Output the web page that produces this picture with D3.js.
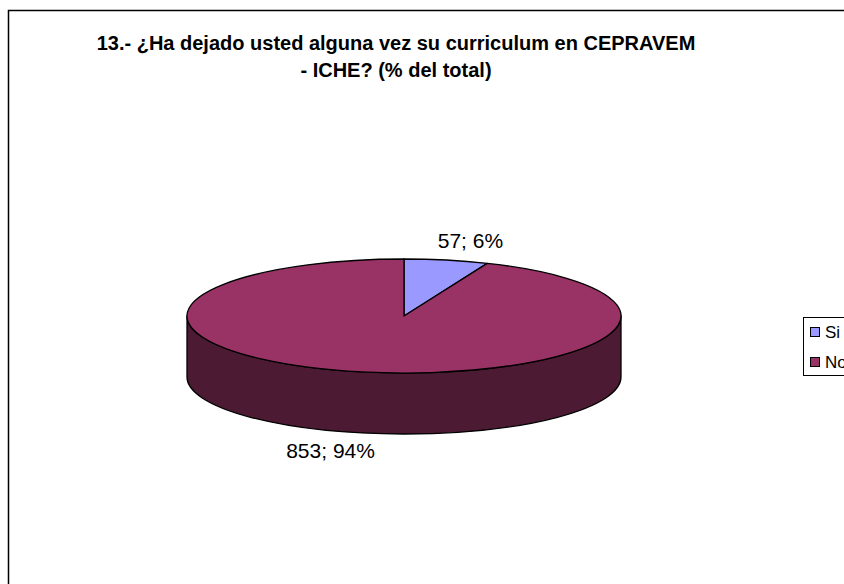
<!DOCTYPE html>
<html>
<head>
<meta charset="utf-8">
<script src="https://cdn.jsdelivr.net/npm/d3@7"></script>
<style>
  body { margin: 0; background: #fff; }
  svg { display: block; font-family: "Liberation Sans", Arial, sans-serif; }
</style>
</head>
<body>
<svg width="844" height="584"></svg>
<script>
(function () {
    // data
    const categories = ["Si", "No"];
    const counts = [57, 853];
    const percents = ["6%", "94%"];
    const colors = ["#9999FF", "#993366"];
    const sideColors = ["#4D4D80", "#4C1A33"];
    const titleLines = ["13.- ¿Ha dejado usted alguna vez su curriculum en CEPRAVEM", "- ICHE? (% del total)"];

    const cx = 404, cy = 316;
    const rx = 217, ry = 57, depth = 61;

    const svg = d3.select("svg");

    // chart frame
    svg.append("rect")
        .attr("x", 8.5)
        .attr("y", 10.5)
        .attr("width", 900)
        .attr("height", 700)
        .attr("fill", "#fff")
        .attr("stroke", "#000")
        .attr("stroke-width", 1.5);

    // title
    svg.append("text")
        .attr("x", 396)
        .attr("y", 50)
        .attr("text-anchor", "middle")
        .style("font-weight", "bold")
        .style("font-size", "20px")
        .selectAll("tspan")
        .data(titleLines)
        .enter()
        .append("tspan")
        .attr("x", 396)
        .attr("dy", (d, i) => i === 0 ? 0 : 27)
        .text(d => d);

    const pie = d3.pie().sort(null).value(d => d);
    const arcs = pie(counts);

    const px = a => cx + rx * Math.sin(a);
    const py = a => cy - ry * Math.cos(a);

    // visible side walls (front half: angles PI/2 .. 3PI/2)
    const g = svg.append("g");
    arcs.forEach((a, i) => {
        const a0 = Math.max(a.startAngle, Math.PI / 2);
        const a1 = Math.min(a.endAngle, 3 * Math.PI / 2);
        if (a1 <= a0) return;
        const p = d3.path();
        p.moveTo(px(a0), py(a0));
        p.lineTo(px(a0), py(a0) + depth);
        const large = (a1 - a0) > Math.PI ? 1 : 0;
        const d = p.toString() +
            `A${rx},${ry} 0 ${large} 1 ${px(a1)},${py(a1) + depth}` +
            `L${px(a1)},${py(a1)}` +
            `A${rx},${ry} 0 ${large} 0 ${px(a0)},${py(a0)}Z`;
        g.append("path")
            .attr("d", d)
            .attr("fill", sideColors[i])
            .attr("stroke", "#000")
            .attr("stroke-width", 1.3)
            .attr("stroke-linejoin", "round");
    });

    // top faces
    const arc = d3.arc().innerRadius(0).outerRadius(rx);
    svg.append("g")
        .attr("transform", `translate(${cx},${cy}) scale(1,${ry / rx})`)
        .selectAll("path")
        .data(arcs)
        .enter()
        .append("path")
        .attr("d", arc)
        .attr("fill", (d, i) => colors[i])
        .attr("stroke", "#000")
        .attr("stroke-width", 1.3)
        .attr("stroke-linejoin", "round")
        .attr("vector-effect", "non-scaling-stroke");

    // data labels
    const labelOffsets = [[24, -12], [-31, 25]];
    svg.append("g")
        .selectAll("text")
        .data(arcs)
        .enter()
        .append("text")
        .attr("x", (d, i) => {
            const m = (d.startAngle + d.endAngle) / 2;
            return px(m) + labelOffsets[i][0];
        })
        .attr("y", (d, i) => {
            const m = (d.startAngle + d.endAngle) / 2;
            const front = Math.cos(m) < 0 ? depth : 0;
            return py(m) + front + labelOffsets[i][1];
        })
        .attr("text-anchor", "middle")
        .style("font-size", "21px")
        .attr("fill", "#000")
        .text((d, i) => `${counts[i]}; ${percents[i]}`);

    // legend
    const legend = svg.append("g").attr("transform", "translate(803,317)");
    legend.append("rect")
        .attr("x", 0.5).attr("y", 0.5)
        .attr("width", 80).attr("height", 58)
        .attr("fill", "#fff")
        .attr("stroke", "#000")
        .attr("stroke-width", 1);
    const item = legend.selectAll(".item")
        .data(categories)
        .enter()
        .append("g")
        .attr("class", "item")
        .attr("transform", (d, i) => `translate(0,${15 + i * 30})`);
    item.append("rect")
        .attr("x", 7.5).attr("y", -4.5)
        .attr("width", 9).attr("height", 9)
        .attr("fill", (d, i) => colors[i])
        .attr("stroke", "#000");
    item.append("text")
        .attr("x", 22)
        .attr("y", 6)
        .style("font-size", "17px")
        .text(d => d);
})();
</script>
</body>
</html>
